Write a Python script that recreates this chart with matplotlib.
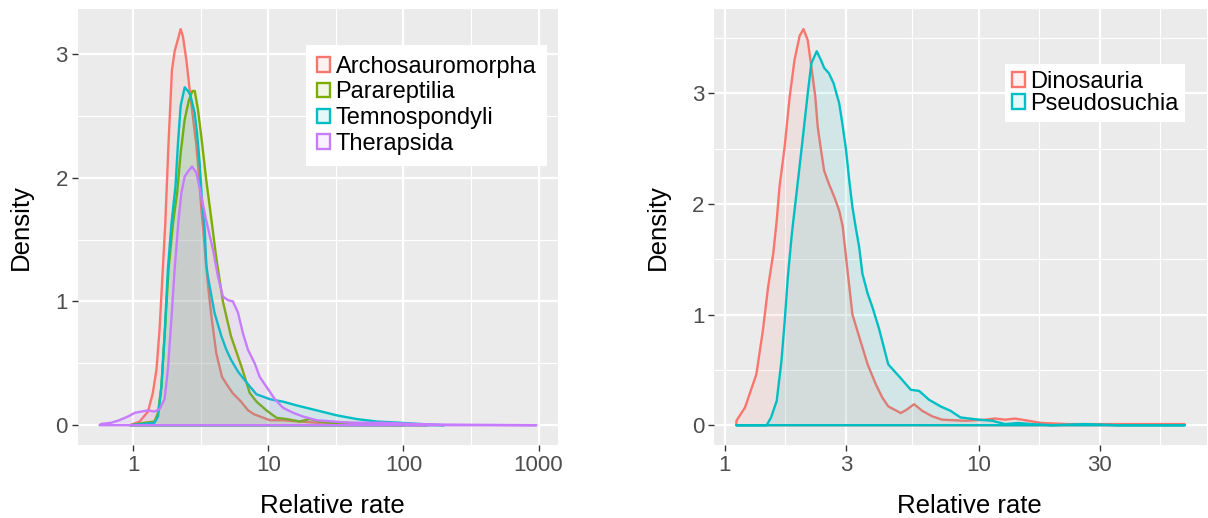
import numpy as np
import matplotlib
matplotlib.use("Agg")
import matplotlib.pyplot as plt
from matplotlib.colors import to_rgba
from matplotlib.patches import Patch
from matplotlib.ticker import FixedLocator, NullFormatter

plt.rcParams['font.family'] = ['Liberation Sans', 'DejaVu Sans']

# ---- left panel: density of relative rate ----
left_names = ['Archosauromorpha', 'Parareptilia', 'Temnospondyli', 'Therapsida']
left_colors = ['#F8766D', '#7CAE00', '#00BFC4', '#C77CFF']

archo_x = [0.95, 1.12, 1.29, 1.40, 1.49, 1.57, 1.66, 1.73, 1.83, 1.94, 2.03, 2.15, 2.25,
           2.34, 2.48, 2.63, 2.80, 2.94, 3.06, 3.20, 3.35, 3.48, 3.65, 3.80, 4.13, 4.55,
           5.0, 5.45, 6.3, 7.1, 7.8, 8.7, 10.3, 12.8, 17, 23, 40, 70, 150]
archo_y = [0, 0.03, 0.11, 0.26, 0.45, 0.77, 1.26, 1.62, 2.28, 2.87, 3.02, 3.12, 3.20,
           3.14, 2.95, 2.70, 2.45, 2.26, 2.04, 1.75, 1.50, 1.28, 1.05, 0.88, 0.58, 0.39,
           0.32, 0.26, 0.19, 0.12, 0.09, 0.07, 0.04, 0.04, 0.03, 0.02, 0.02, 0.005, 0]

para_x = [0.95, 1.22, 1.44, 1.53, 1.62, 1.71, 1.83, 1.97, 2.12, 2.25, 2.41, 2.58, 2.75,
          2.86, 3.02, 3.20, 3.48, 3.80, 4.13, 4.62, 5.3, 6.4, 7.3, 8.2, 9.7, 11.5, 13.6,
          17.1, 20.3, 24.1, 28.5, 40, 100]
para_y = [0, 0.02, 0.03, 0.10, 0.31, 0.72, 1.26, 1.62, 1.88, 2.20, 2.47, 2.62, 2.70,
          2.70, 2.55, 2.33, 1.98, 1.66, 1.35, 1.00, 0.72, 0.46, 0.26, 0.19, 0.12, 0.06,
          0.05, 0.03, 0.05, 0.03, 0.02, 0.01, 0]

temno_x = [0.95, 1.44, 1.53, 1.62, 1.71, 1.81, 1.92, 2.06, 2.15, 2.25, 2.41, 2.55, 2.65,
           2.86, 2.98, 3.11, 3.23, 3.39, 3.48, 3.58, 4.0, 4.5, 4.9, 5.3, 6.0, 7.1, 8.18,
           10.3, 12.9, 16.2, 22.8, 32, 45, 63, 94, 130, 200]
temno_y = [0, 0.02, 0.07, 0.31, 0.72, 1.26, 1.62, 1.93, 2.28, 2.58, 2.73, 2.70, 2.67,
           2.52, 2.35, 2.12, 1.83, 1.58, 1.30, 1.20, 0.91, 0.72, 0.61, 0.53, 0.43, 0.33, 0.25,
           0.21, 0.19, 0.16, 0.12, 0.08, 0.05, 0.03, 0.02, 0.01, 0]

thera_x = [0.565, 0.58, 0.69, 0.79, 0.915, 1.03, 1.15, 1.29, 1.44, 1.57, 1.71, 1.81, 1.92,
           2.03, 2.17, 2.28, 2.41, 2.55, 2.73, 2.94, 3.16, 3.45, 3.90, 4.25, 4.62, 5.04,
           5.48, 5.97, 6.51, 7.08, 7.94, 8.65, 9.7, 11.2, 12.9, 15.3, 18.1, 22.8, 30.2,
           40.1, 70.5, 120, 200, 965]
thera_y = [0, 0.01, 0.02, 0.04, 0.07, 0.10, 0.11, 0.12, 0.11, 0.13, 0.21, 0.45, 0.85,
           1.26, 1.66, 1.88, 2.01, 2.05, 2.09, 2.04, 1.88, 1.67, 1.42, 1.20, 1.04, 1.01,
           1.00, 0.91, 0.74, 0.61, 0.50, 0.39, 0.31, 0.21, 0.14, 0.10, 0.07, 0.04, 0.03,
           0.02, 0.02, 0.01, 0.005, 0]

# ---- right panel ----
right_names = ['Dinosauria', 'Pseudosuchia']
right_colors = ['#F8766D', '#00BFC4']

dino_x = [1.11, 1.20, 1.33, 1.41, 1.48, 1.55, 1.60, 1.64, 1.72, 1.80, 1.88, 1.97, 2.04,
          2.12, 2.20, 2.27, 2.32, 2.39, 2.46, 2.57, 2.70, 2.82, 2.91, 3.04, 3.18, 3.39,
          3.65, 3.93, 4.17, 4.4, 4.93, 5.2, 5.56, 5.99, 6.56, 7.18, 8.87, 10.6, 11.6,
          12.7, 13.9, 15.7, 17.7, 22.5, 41.2, 64.7]
dino_y = [0.04, 0.16, 0.46, 0.85, 1.25, 1.55, 1.85, 2.15, 2.52, 2.97, 3.30, 3.52, 3.58,
          3.48, 3.21, 2.97, 2.70, 2.49, 2.30, 2.18, 2.06, 1.94, 1.80, 1.40, 1.00, 0.79,
          0.55, 0.37, 0.25, 0.17, 0.11, 0.14, 0.19, 0.13, 0.08, 0.05, 0.04, 0.05, 0.06,
          0.05, 0.06, 0.04, 0.02, 0.01, 0.01, 0.01]

pseudo_x = [1.11, 1.46, 1.52, 1.60, 1.67, 1.72, 1.77, 1.83, 1.85, 1.94, 2.03, 2.12, 2.19,
            2.30, 2.39, 2.46, 2.57, 2.68, 2.82, 2.90, 3.00, 3.09, 3.18, 3.28, 3.38, 3.48,
            3.65, 3.82, 4.05, 4.4, 4.86, 5.40, 5.82, 6.37, 7.07, 7.74, 8.47, 10.0, 11.3,
            12.7, 14.3, 16.2, 19.4, 26.2, 35.4, 64.7]
pseudo_y = [0, 0, 0.07, 0.22, 0.58, 0.94, 1.34, 1.70, 1.80, 2.21, 2.61, 3.00, 3.27,
            3.38, 3.30, 3.23, 3.18, 3.09, 2.91, 2.73, 2.49, 2.21, 1.97, 1.78, 1.61, 1.37,
            1.19, 1.06, 0.87, 0.55, 0.44, 0.32, 0.31, 0.23, 0.17, 0.13, 0.07, 0.05, 0.04,
            0.01, 0.02, 0.01, 0.0, 0.01, 0.0, 0.0]

left_series = [(archo_x, archo_y), (para_x, para_y), (temno_x, temno_y), (thera_x, thera_y)]
right_series = [(dino_x, dino_y), (pseudo_x, pseudo_y)]

left_breaks = [1, 10, 100, 1000]
right_breaks = [1, 3, 10, 30]

fig = plt.figure(figsize=(12.08, 5.18), dpi=100)
W, H = 1208, 518
ax1 = fig.add_axes([77.7 / W, 73 / H, (558.3 - 77.7) / W, (445 - 9.3) / H])
ax2 = fig.add_axes([714 / W, 73 / H, (1207 - 714) / W, (445 - 9.3) / H])


def minor_breaks(br):
    lb = np.log10(br)
    step = lb[-1] - lb[-2]
    ext = np.append(lb, lb[-1] + step)
    return list(10 ** ((ext[:-1] + ext[1:]) / 2))


def draw(ax, series, colors, breaks, names, leg_xy, bpad, lspace, xlab_pos):
    ax.set_facecolor('#EBEBEB')
    for (xs, ys), c in zip(series, colors):
        px = [xs[0]] + list(xs) + [xs[-1]]
        py = [0] + list(ys) + [0]
        ax.fill(px, py, facecolor=to_rgba(c, 0.1), edgecolor=c, lw=1.7,
                joinstyle='round')
    ax.set_xscale('log')
    allx = np.concatenate([s[0] for s in series])
    ymax = max(max(s[1]) for s in series)
    lo, hi = np.log10(allx.min()), np.log10(allx.max())
    pad = (hi - lo) * 0.05
    ax.set_xlim(10 ** (lo - pad), 10 ** (hi + pad))

    ax.xaxis.set_major_locator(FixedLocator(breaks))
    ax.set_xticklabels([str(b) for b in breaks])
    ax.xaxis.set_minor_locator(FixedLocator(minor_breaks(breaks)))
    ax.xaxis.set_minor_formatter(NullFormatter())
    ax.set_yticks([0, 1, 2, 3])
    ax.set_yticks([0.5, 1.5, 2.5, 3.5], minor=True)
    ax.set_ylim(-ymax * 0.05, ymax * 1.05)

    ax.grid(which='major', color='white', lw=1.6)
    ax.grid(which='minor', color='white', lw=0.8)
    ax.set_axisbelow(True)
    for s in ax.spines.values():
        s.set_visible(False)
    ax.tick_params(which='major', length=4, width=1, color='#333333',
                   labelcolor='#4D4D4D', labelsize=16, pad=3)
    ax.tick_params(which='minor', length=0)
    ax.set_xlabel('Relative rate', fontsize=18.5, labelpad=13, x=xlab_pos)
    ax.set_ylabel('Density', fontsize=18.5, labelpad=16)

    handles = [Patch(facecolor=to_rgba(c, 0.1), edgecolor=c, lw=1.7) for c in colors]
    leg = ax.legend(handles, names, loc='upper left',
                    bbox_to_anchor=(leg_xy[0] / W, 1 - leg_xy[1] / H),
                    bbox_transform=fig.transFigure, fontsize=17, frameon=True,
                    fancybox=False, framealpha=1, edgecolor='none', borderpad=bpad,
                    borderaxespad=0, handlelength=0.58, handleheight=0.58,
                    handletextpad=0.22, labelspacing=lspace)
    leg.get_frame().set_linewidth(0)


draw(ax1, left_series, left_colors, left_breaks, left_names, (306, 45), 0.45, 0.16, 0.529)
draw(ax2, right_series, right_colors, right_breaks, right_names, (1005, 64), 0.28, 0.02, 0.517)

fig.savefig('out.png', dpi=100)
